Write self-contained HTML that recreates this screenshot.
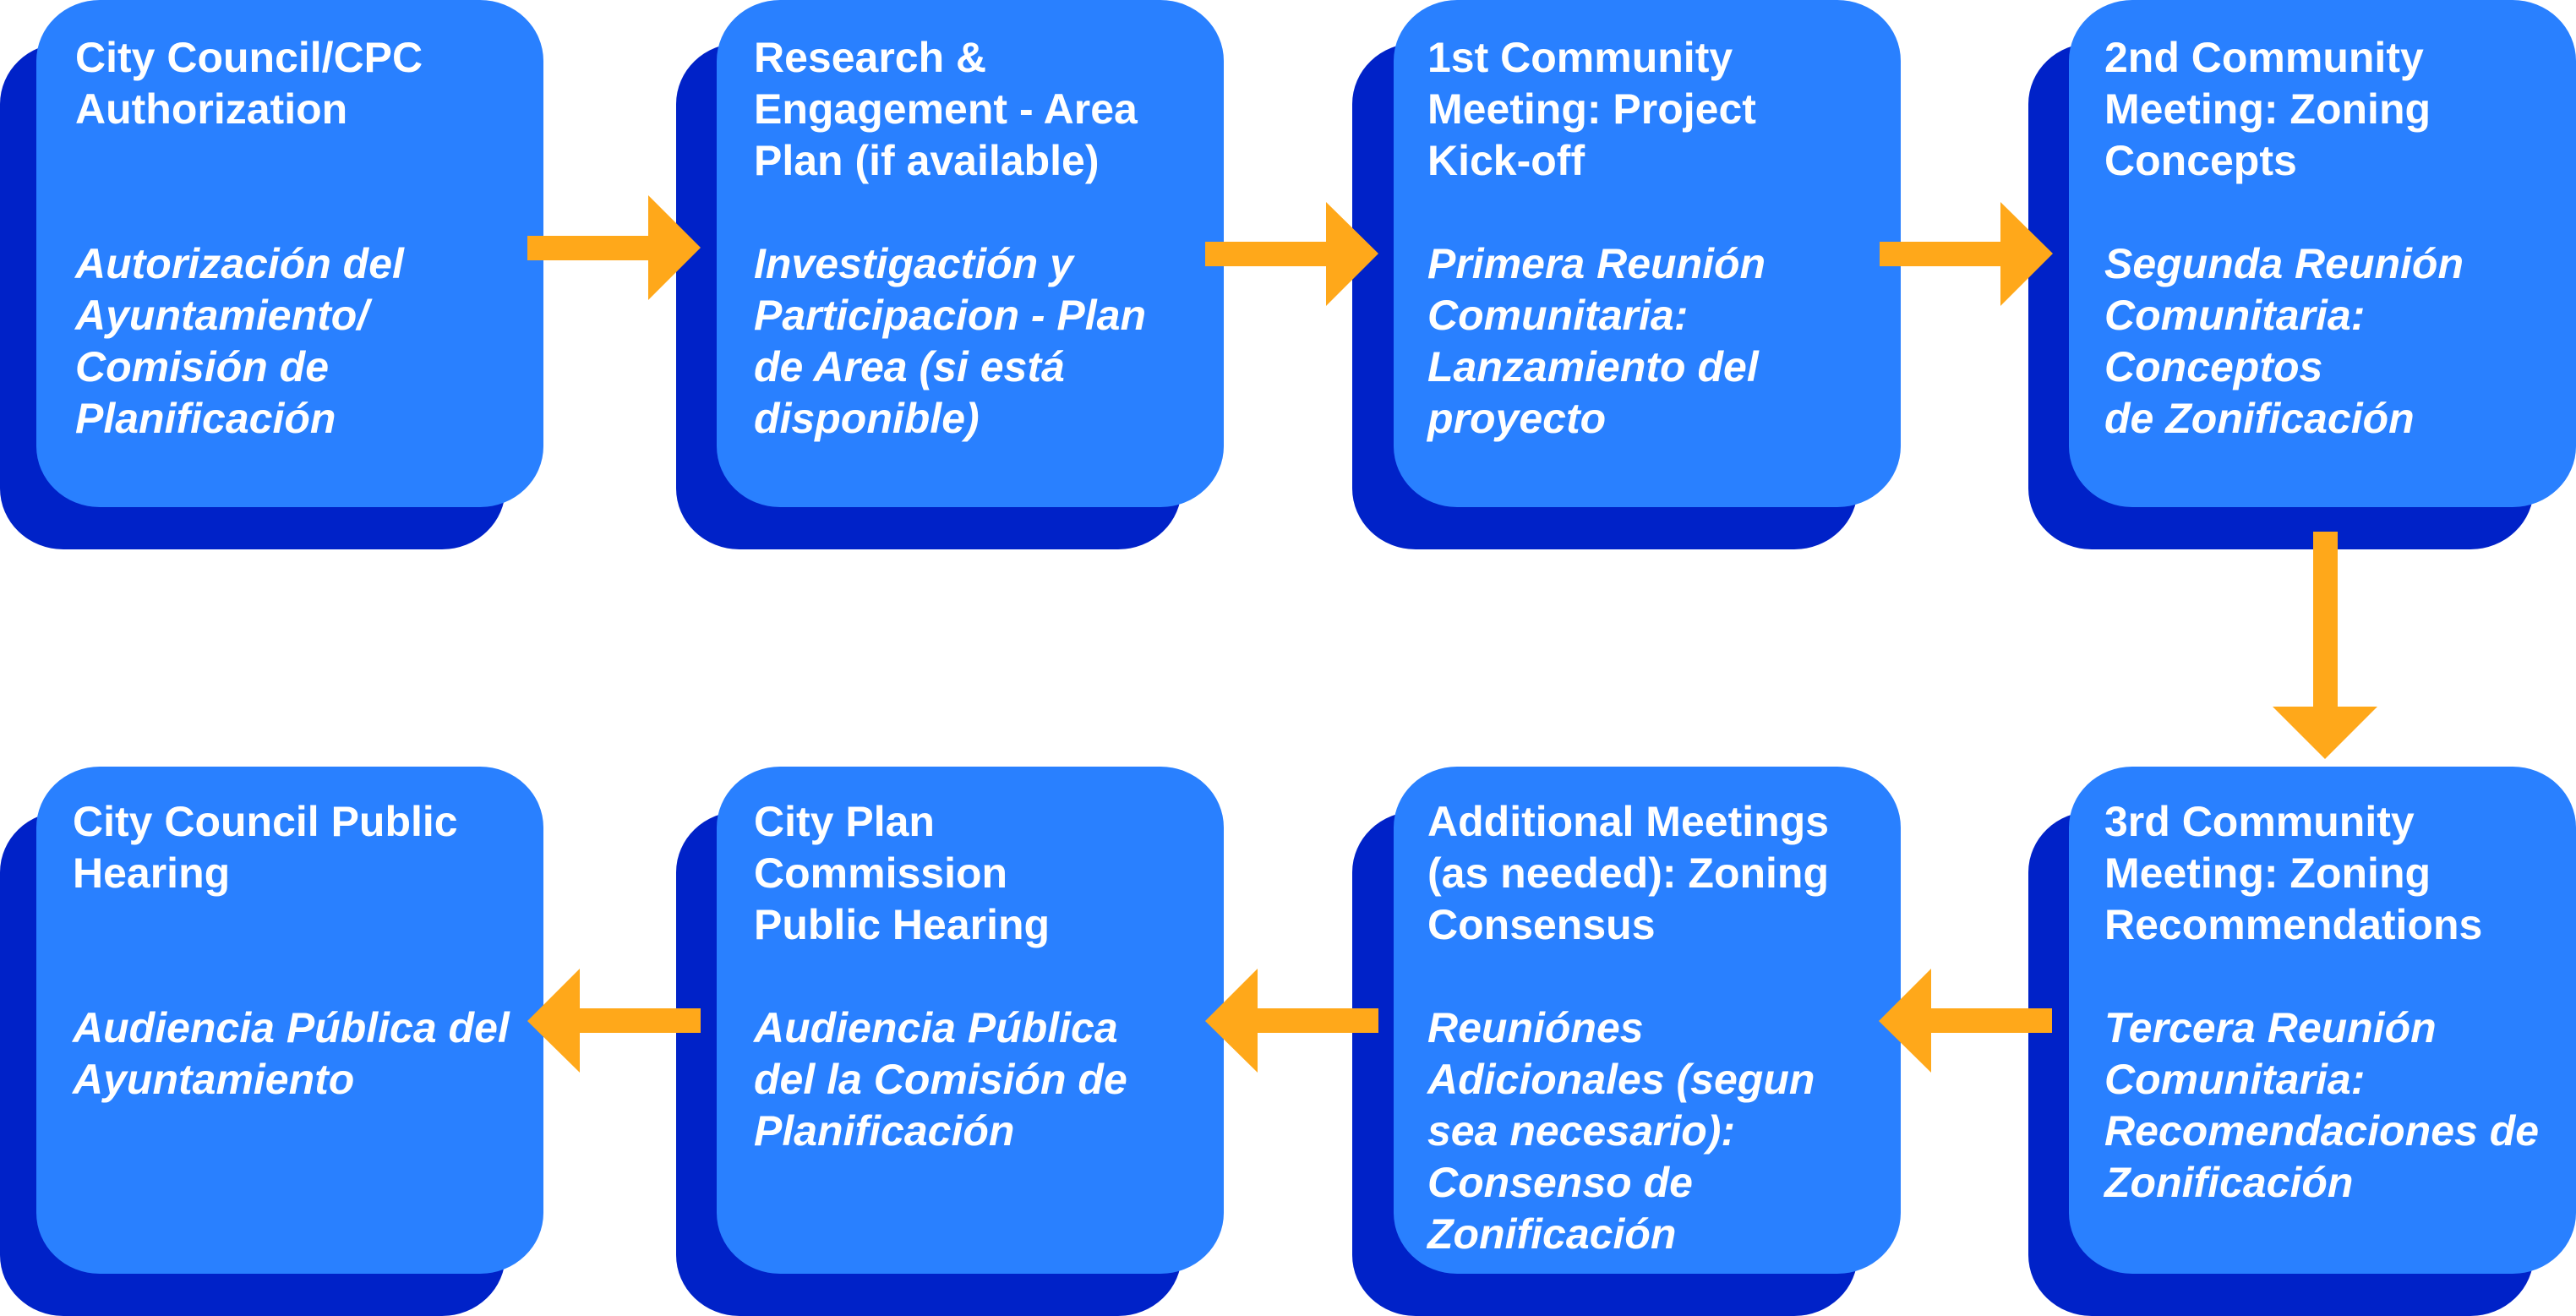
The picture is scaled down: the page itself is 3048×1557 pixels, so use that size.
<!DOCTYPE html>
<html><head><meta charset="utf-8"><style>
body{margin:0;width:3048px;height:1557px;background:#fff;position:relative;overflow:hidden;font-family:"Liberation Sans",Arial,sans-serif;}
svg{position:absolute;left:0;top:0}
.t{position:absolute;color:#fff;font-weight:bold;font-size:50px;line-height:61px;white-space:nowrap;}
.t i{font-style:italic}
</style></head><body>
<svg width="3048" height="1557" viewBox="0 0 3048 1557">
<g fill="#0022C8">
<rect x="0" y="51" width="598" height="599" rx="75" ry="72"/>
<rect x="800" y="51" width="598" height="599" rx="75" ry="72"/>
<rect x="1600" y="51" width="598" height="599" rx="75" ry="72"/>
<rect x="2400" y="51" width="598" height="599" rx="75" ry="72"/>
<rect x="0" y="960" width="598" height="597" rx="75" ry="72"/>
<rect x="800" y="960" width="598" height="597" rx="75" ry="72"/>
<rect x="1600" y="960" width="598" height="597" rx="75" ry="72"/>
<rect x="2400" y="960" width="598" height="597" rx="75" ry="72"/>
</g>
<g fill="#2980FF">
<rect x="43" y="0" width="600" height="600" rx="75" ry="72"/>
<rect x="848" y="0" width="600" height="600" rx="75" ry="72"/>
<rect x="1649" y="0" width="600" height="600" rx="75" ry="72"/>
<rect x="2448" y="0" width="600" height="600" rx="75" ry="72"/>
<rect x="43" y="907" width="600" height="600" rx="75" ry="72"/>
<rect x="848" y="907" width="600" height="600" rx="75" ry="72"/>
<rect x="1649" y="907" width="600" height="600" rx="75" ry="72"/>
<rect x="2448" y="907" width="600" height="600" rx="75" ry="72"/>
</g>
<g fill="#FFA81A">
<polygon points="624,279 767,279 767,231 829,293 767,355 767,308 624,308"/>
<polygon points="1426,286 1569,286 1569,239 1631,300 1569,362 1569,315 1426,315"/>
<polygon points="2224,286 2367,286 2367,239 2429,300 2367,362 2367,315 2224,315"/>
<polygon points="2737,629 2766,629 2766,836 2813,836 2751,898 2689,836 2737,836"/>
<polygon points="2428,1193 2285,1193 2285,1146 2223,1208 2285,1269 2285,1222 2428,1222"/>
<polygon points="1631,1193 1488,1193 1488,1146 1426,1208 1488,1269 1488,1222 1631,1222"/>
<polygon points="829,1193 686,1193 686,1146 624,1208 686,1269 686,1222 829,1222"/>
</g>
</svg>
<div class="t" style="left:89px;top:38px">City Council/CPC<br>Authorization<br><br><br><i>Autorización del<br>Ayuntamiento/<br>Comisión de<br>Planificación</i></div>
<div class="t" style="left:892px;top:38px">Research &amp;<br>Engagement - Area<br>Plan (if available)<br><br><i>Investigactión y<br>Participacion - Plan<br>de Area (si está<br>disponible)</i></div>
<div class="t" style="left:1689px;top:38px">1st Community<br>Meeting: Project<br>Kick-off<br><br><i>Primera Reunión<br>Comunitaria:<br>Lanzamiento del<br>proyecto</i></div>
<div class="t" style="left:2490px;top:38px">2nd Community<br>Meeting: Zoning<br>Concepts<br><br><i>Segunda Reunión<br>Comunitaria:<br>Conceptos<br>de Zonificación</i></div>
<div class="t" style="left:86px;top:942px">City Council Public<br>Hearing<br><br><br><i>Audiencia Pública del<br>Ayuntamiento</i></div>
<div class="t" style="left:892px;top:942px">City Plan<br>Commission<br>Public Hearing<br><br><i>Audiencia Pública<br>del la Comisión de<br>Planificación</i></div>
<div class="t" style="left:1689px;top:942px">Additional Meetings<br>(as needed): Zoning<br>Consensus<br><br><i>Reuniónes<br>Adicionales (segun<br>sea necesario):<br>Consenso de<br>Zonificación</i></div>
<div class="t" style="left:2490px;top:942px">3rd Community<br>Meeting: Zoning<br>Recommendations<br><br><i>Tercera Reunión<br>Comunitaria:<br>Recomendaciones de<br>Zonificación</i></div>
</body></html>
